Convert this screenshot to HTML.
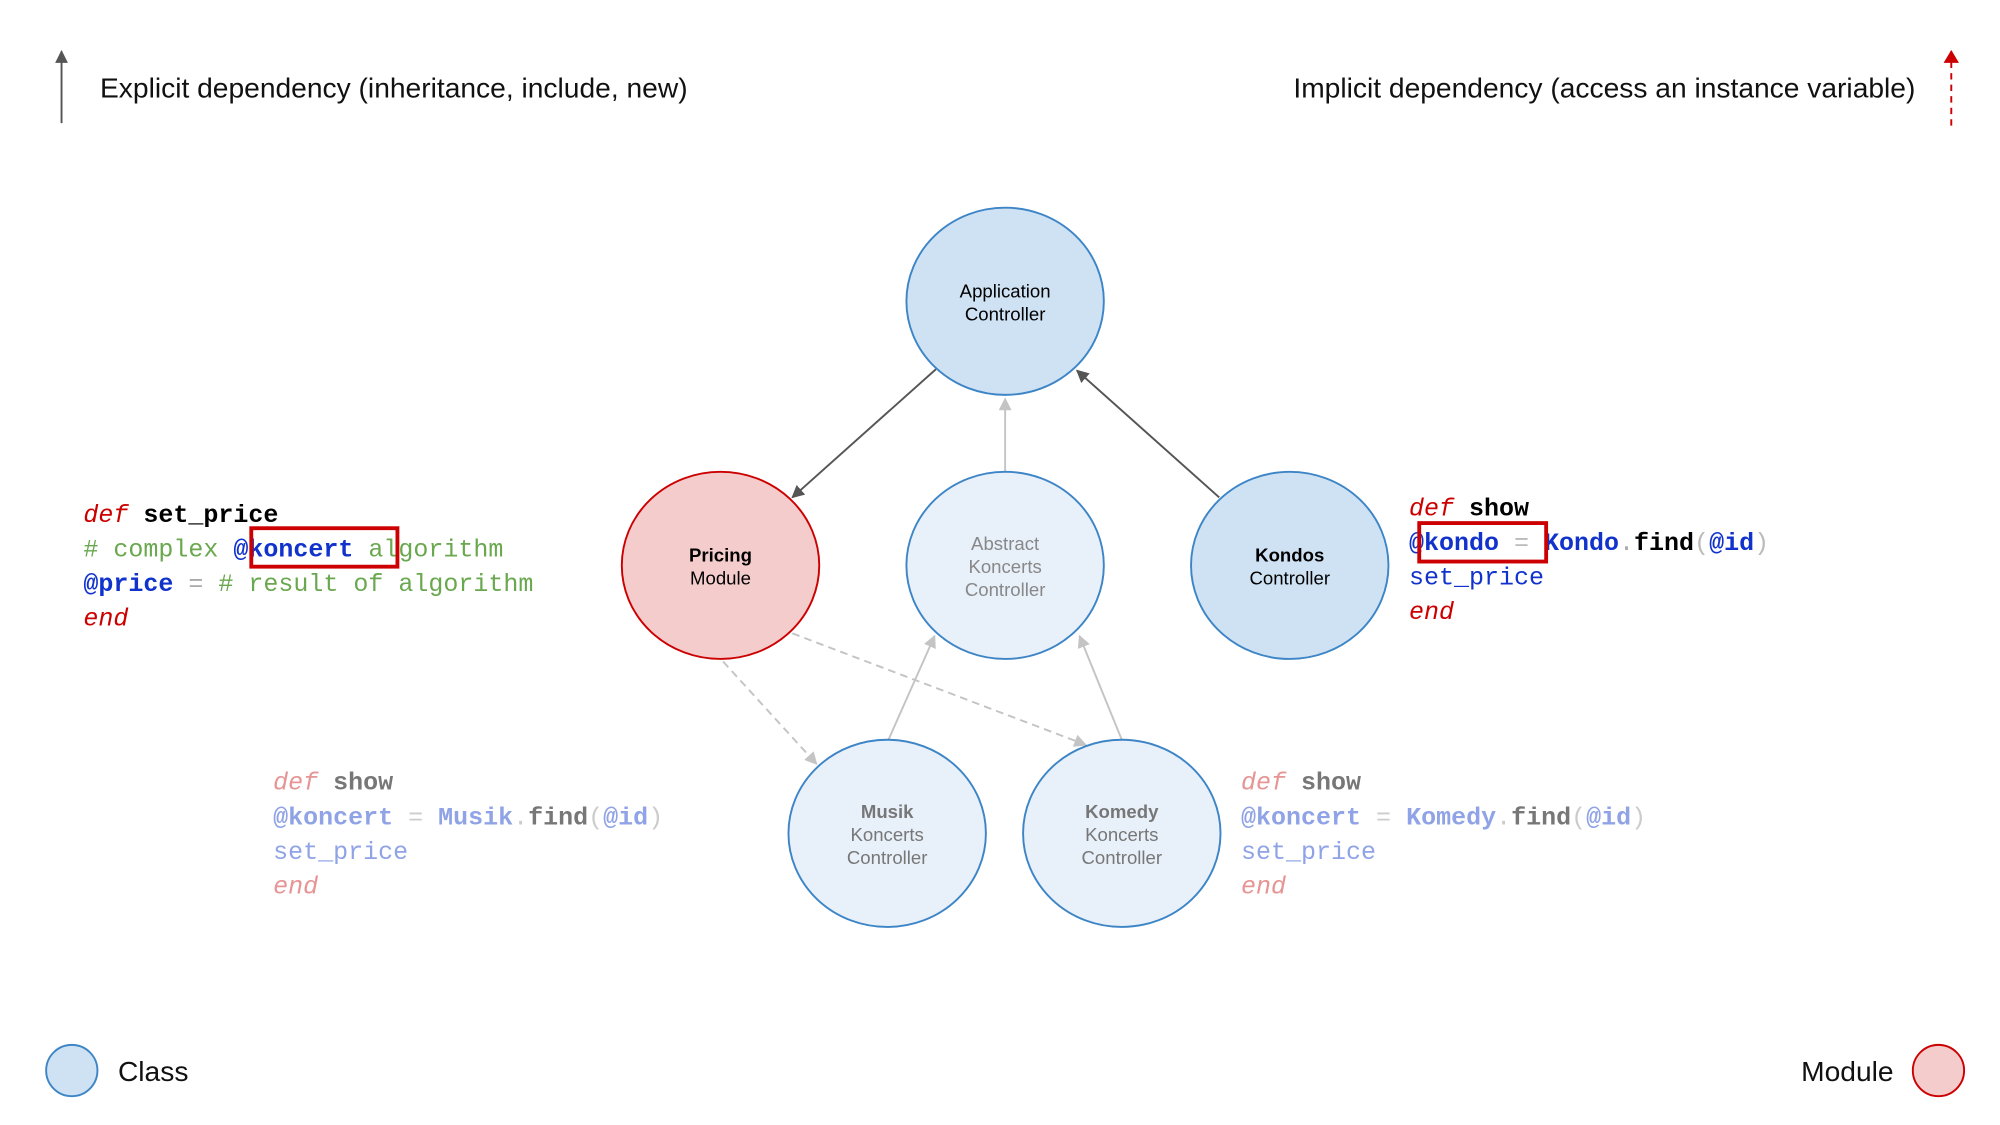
<!DOCTYPE html>
<html><head><meta charset="utf-8"><style>
html,body{margin:0;padding:0;background:#fff;}
svg{display:block;}
.t{font-family:"Liberation Sans",sans-serif;}
.m{font-family:"Liberation Mono","DejaVu Sans Mono",monospace;font-size:19.5px;}
.b{font-weight:bold;}
.i{font-style:italic;}
</style></head><body>
<svg width="2000" height="1125" viewBox="0 0 1560 877.5" xmlns="http://www.w3.org/2000/svg">
<defs>
<marker id="ad" markerWidth="10" markerHeight="10" refX="9" refY="5" orient="auto" markerUnits="userSpaceOnUse"><path d="M0,0 L10,5 L0,10 z" fill="#555"/></marker>
<marker id="al" markerWidth="10" markerHeight="10" refX="9" refY="5" orient="auto" markerUnits="userSpaceOnUse"><path d="M0,0 L10,5 L0,10 z" fill="#c4c4c4"/></marker>
<marker id="ar" markerWidth="10" markerHeight="12" refX="9" refY="6" orient="auto" markerUnits="userSpaceOnUse"><path d="M0,0 L10,6 L0,12 z" fill="#cc0000"/></marker>
</defs>
<!-- legend top -->
<line x1="48" y1="96" x2="48" y2="40" stroke="#555" stroke-width="1.5" marker-end="url(#ad)"/>
<text class="t" x="78" y="76" font-size="22" fill="#111">Explicit dependency (inheritance, include, new)</text>
<text class="t" x="1494" y="76" font-size="22" fill="#111" text-anchor="end">Implicit dependency (access an instance variable)</text>
<line x1="1522" y1="98" x2="1522" y2="40" stroke="#cc0000" stroke-width="1.5" stroke-dasharray="5,4" marker-end="url(#ar)"/>
<!-- connectors -->
<line x1="730" y1="288" x2="618" y2="388" stroke="#555" stroke-width="1.5" marker-end="url(#ad)"/>
<line x1="951" y1="388" x2="840" y2="289" stroke="#555" stroke-width="1.5" marker-end="url(#ad)"/>
<line x1="784" y1="368" x2="784" y2="311" stroke="#c4c4c4" stroke-width="1.5" marker-end="url(#al)"/>
<line x1="693" y1="577" x2="729" y2="496" stroke="#c4c4c4" stroke-width="1.5" marker-end="url(#al)"/>
<line x1="875" y1="577" x2="842" y2="496" stroke="#c4c4c4" stroke-width="1.5" marker-end="url(#al)"/>
<line x1="564" y1="516" x2="637" y2="596" stroke="#c4c4c4" stroke-width="1.5" stroke-dasharray="6,4" marker-end="url(#al)"/>
<line x1="618" y1="494" x2="847" y2="581" stroke="#c4c4c4" stroke-width="1.5" stroke-dasharray="6,4" marker-end="url(#al)"/>
<!-- nodes -->
<ellipse cx="784" cy="235" rx="77" ry="73" fill="#cfe2f3" stroke="#3d85c6" stroke-width="1.5"/>
<text class="t" x="784" y="232" font-size="14.5" text-anchor="middle" fill="#000">Application</text>
<text class="t" x="784" y="250" font-size="14.5" text-anchor="middle" fill="#000">Controller</text>
<ellipse cx="562" cy="441" rx="77" ry="73" fill="#f4cccc" stroke="#cc0000" stroke-width="1.5"/>
<text class="t b" x="562" y="438" font-size="14.5" text-anchor="middle" fill="#000">Pricing</text>
<text class="t" x="562" y="456" font-size="14.5" text-anchor="middle" fill="#000">Module</text>
<ellipse cx="784" cy="441" rx="77" ry="73" fill="#e8f0fa" stroke="#3d85c6" stroke-width="1.5"/>
<text class="t" x="784" y="429" font-size="14.5" text-anchor="middle" fill="#888">Abstract</text>
<text class="t" x="784" y="447" font-size="14.5" text-anchor="middle" fill="#888">Koncerts</text>
<text class="t" x="784" y="465" font-size="14.5" text-anchor="middle" fill="#888">Controller</text>
<ellipse cx="1006" cy="441" rx="77" ry="73" fill="#cfe2f3" stroke="#3d85c6" stroke-width="1.5"/>
<text class="t b" x="1006" y="438" font-size="14.5" text-anchor="middle" fill="#000">Kondos</text>
<text class="t" x="1006" y="456" font-size="14.5" text-anchor="middle" fill="#000">Controller</text>
<ellipse cx="692" cy="650" rx="77" ry="73" fill="#e8f0fa" stroke="#3d85c6" stroke-width="1.5"/>
<text class="t b" x="692" y="638" font-size="14.5" text-anchor="middle" fill="#777">Musik</text>
<text class="t" x="692" y="656" font-size="14.5" text-anchor="middle" fill="#777">Koncerts</text>
<text class="t" x="692" y="674" font-size="14.5" text-anchor="middle" fill="#777">Controller</text>
<ellipse cx="875" cy="650" rx="77" ry="73" fill="#e8f0fa" stroke="#3d85c6" stroke-width="1.5"/>
<text class="t b" x="875" y="638" font-size="14.5" text-anchor="middle" fill="#777">Komedy</text>
<text class="t" x="875" y="656" font-size="14.5" text-anchor="middle" fill="#777">Koncerts</text>
<text class="t" x="875" y="674" font-size="14.5" text-anchor="middle" fill="#777">Controller</text>
<!-- code left -->
<g class="m" xml:space="preserve">
<text x="65" y="407"><tspan class="i" fill="#cc0000">def</tspan> <tspan class="b" fill="#000">set_price</tspan></text>
<text x="65" y="434" fill="#6aa84f">  # complex <tspan class="b" fill="#1133cc">@koncert</tspan> algorithm</text>
<text x="65" y="461"><tspan class="b" fill="#1133cc">  @price</tspan><tspan fill="#aaa"> = </tspan><tspan fill="#6aa84f"># result of algorithm</tspan></text>
<text x="65" y="488" class="i" fill="#cc0000">end</text>
</g>
<rect x="196" y="412" width="114" height="30" fill="none" stroke="#cc0000" stroke-width="3"/>
<!-- code right -->
<g class="m" xml:space="preserve">
<text x="1099" y="402"><tspan class="i" fill="#cc0000">def</tspan> <tspan class="b" fill="#000">show</tspan></text>
<text x="1099" y="429"><tspan class="b" fill="#1133cc">  @kondo</tspan><tspan fill="#bbb"> = </tspan><tspan class="b" fill="#1133cc">Kondo</tspan><tspan fill="#aaa">.</tspan><tspan class="b" fill="#000">find</tspan><tspan fill="#bbb">(</tspan><tspan class="b" fill="#1133cc">@id</tspan><tspan fill="#bbb">)</tspan></text>
<text x="1099" y="456" fill="#1133cc">  set_price</text>
<text x="1099" y="483" class="i" fill="#cc0000">end</text>
</g>
<rect x="1107" y="408" width="99" height="30" fill="none" stroke="#cc0000" stroke-width="3"/>
<!-- code faded -->
<g class="m" xml:space="preserve">
<text x="213" y="616"><tspan class="i" fill="#e69494">def</tspan> <tspan class="b" fill="#777">show</tspan></text>
<text x="213" y="643"><tspan class="b" fill="#8fa3e6">  @koncert</tspan><tspan fill="#ccc"> = </tspan><tspan class="b" fill="#8fa3e6">Musik</tspan><tspan fill="#ccc">.</tspan><tspan class="b" fill="#777">find</tspan><tspan fill="#ccc">(</tspan><tspan class="b" fill="#8fa3e6">@id</tspan><tspan fill="#ccc">)</tspan></text>
<text x="213" y="670" fill="#8fa3e6">  set_price</text>
<text x="213" y="697" class="i" fill="#e69494">end</text>
<text x="968" y="616"><tspan class="i" fill="#e69494">def</tspan> <tspan class="b" fill="#777">show</tspan></text>
<text x="968" y="643"><tspan class="b" fill="#8fa3e6">  @koncert</tspan><tspan fill="#ccc"> = </tspan><tspan class="b" fill="#8fa3e6">Komedy</tspan><tspan fill="#ccc">.</tspan><tspan class="b" fill="#777">find</tspan><tspan fill="#ccc">(</tspan><tspan class="b" fill="#8fa3e6">@id</tspan><tspan fill="#ccc">)</tspan></text>
<text x="968" y="670" fill="#8fa3e6">  set_price</text>
<text x="968" y="697" class="i" fill="#e69494">end</text>
</g>
<!-- bottom legend -->
<ellipse cx="56" cy="835" rx="20" ry="20" fill="#cfe2f3" stroke="#3d85c6" stroke-width="1.5"/>
<text class="t" x="92" y="843" font-size="22" fill="#111">Class</text>
<text class="t" x="1477" y="843" font-size="22" fill="#111" text-anchor="end">Module</text>
<ellipse cx="1512" cy="835" rx="20" ry="20" fill="#f4cccc" stroke="#cc0000" stroke-width="1.5"/>
</svg>
</body></html>
